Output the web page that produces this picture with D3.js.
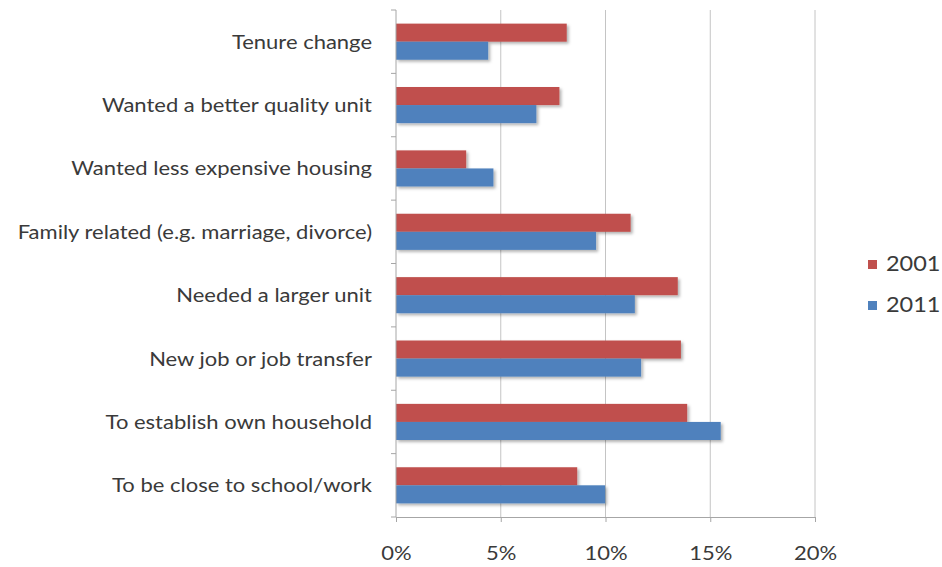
<!DOCTYPE html>
<html><head>
<meta charset="UTF-8">
<title>Reasons for moving, 2001 vs 2011</title>
<script src="https://d3js.org/d3.v7.min.js"></script>
<style>
    body { margin: 0; background: #fff; }
    text { font-family: Lato, "Open Sans", sans-serif; fill: #3a3a3a; }
    .grid line { stroke: #c4c4c4; stroke-width: 1px; }
    .axis path, .axis line { stroke: #a6a6a6; }
</style>
</head>
<body>
<div id="chart"></div>
<script>
    // categories top to bottom
    const categories = [
        "Tenure change",
        "Wanted a better quality unit",
        "Wanted less expensive housing",
        "Family related (e.g. marriage, divorce)",
        "Needed a larger unit",
        "New job or job transfer",
        "To establish own household",
        "To be close to school/work"
    ];
    const years = ["2001", "2011"];
    const values2001 = [8.15, 7.8, 3.35, 11.2, 13.45, 13.6, 13.9, 8.65];
    const values2011 = [4.4, 6.7, 4.65, 9.55, 11.4, 11.7, 15.5, 9.98];
    const xTicks = [0, 5, 10, 15, 20];
    const colors = ["#C0504D", "#4F81BD"];

    const W = 942, H = 567;
    const margin = { top: 10, right: 127, bottom: 50, left: 396 };
    const width = W - margin.left - margin.right;
    const height = H - margin.top - margin.bottom;
    const stretch = "scale(1.1,1)"; // source text is a bit wide

    const svg = d3.select("#chart").append("svg")
        .attr("width", W).attr("height", H);

    const defs = svg.append("defs");
    const f = defs.append("filter").attr("id", "shadow")
        .attr("x", "-5%").attr("y", "-20%").attr("width", "115%").attr("height", "160%");
    f.append("feDropShadow").attr("dx", 2).attr("dy", 2)
        .attr("stdDeviation", 1.5).attr("flood-color", "#000").attr("flood-opacity", 0.3);

    const g = svg.append("g").attr("transform", `translate(${margin.left},${margin.top})`);

    const x = d3.scaleLinear().domain([0, 20]).range([0, width]);
    const y = d3.scaleBand().domain(categories).range([0, height]).paddingInner(0.43).paddingOuter(0.215);
    const ySub = d3.scaleBand().domain(years).range([0, y.bandwidth()]);

    // gridlines
    g.append("g").attr("class", "grid")
        .selectAll("line").data(xTicks.slice(1)).enter().append("line")
        .attr("x1", d => x(d)).attr("x2", d => x(d))
        .attr("y1", 0).attr("y2", height);

    // bars
    const rows = categories.map((c, i) => ({ cat: c, vals: [values2001[i], values2011[i]] }));
    const grp = g.selectAll(".cat").data(rows).enter().append("g")
        .attr("class", "cat")
        .attr("transform", d => `translate(0,${y(d.cat)})`);
    grp.selectAll("rect").data(d => d.vals.map((v, j) => ({ year: years[j], v: v, c: colors[j] })))
        .enter().append("rect")
        .attr("x", 0)
        .attr("y", d => ySub(d.year))
        .attr("width", d => x(d.v))
        .attr("height", ySub.bandwidth())
        .attr("fill", d => d.c)
        .attr("filter", "url(#shadow)");

    // x axis
    const xAxis = g.append("g").attr("class", "axis")
        .attr("transform", `translate(0,${height})`)
        .call(d3.axisBottom(x).tickValues(xTicks).tickFormat(d => d + "%").tickSizeInner(5).tickSizeOuter(0));
    xAxis.selectAll("text")
        .attr("y", 29).attr("dy", "0.71em")
        .attr("transform", stretch)
        .style("font-size", "20px");

    // y axis: line plus ticks at category boundaries
    const step = y.step();
    const yAxis = g.append("g").attr("class", "axis");
    yAxis.append("line").attr("x1", 0).attr("x2", 0).attr("y1", 0).attr("y2", height);
    yAxis.selectAll(".tk").data(d3.range(categories.length + 1)).enter().append("line")
        .attr("x1", -5).attr("x2", 0)
        .attr("y1", i => i * step).attr("y2", i => i * step);
    yAxis.selectAll(".lbl").data(categories).enter().append("text")
        .attr("transform", d => `translate(-24,${y(d) + y.bandwidth() / 2}) ${stretch}`)
        .attr("dy", "0.35em")
        .attr("text-anchor", "end")
        .style("font-size", "20px")
        .text(d => d);

    // legend
    const legend = svg.append("g").attr("transform", "translate(868,264)");
    const li = legend.selectAll("g").data(years).enter().append("g")
        .attr("transform", (d, i) => `translate(0,${i * 41})`);
    li.append("rect").attr("x", 0).attr("y", -4).attr("width", 9).attr("height", 9)
        .attr("fill", (d, i) => colors[i]);
    li.append("text").attr("x", 16).attr("dy", "0.35em")
        .attr("transform", "scale(1.12,1)")
        .style("font-size", "21px").text(d => d);
</script>
</body>
</html>
